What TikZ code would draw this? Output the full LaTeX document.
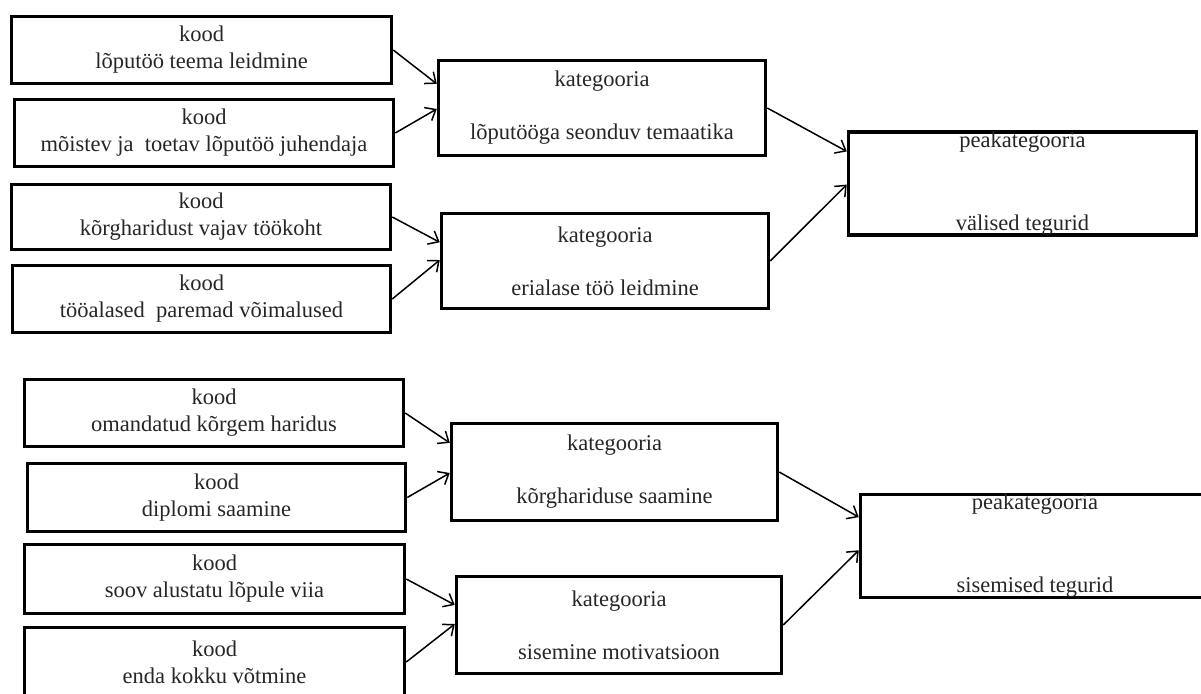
\documentclass[tikz,border=0pt]{standalone}
\usepackage{fontspec}
\setmainfont{Liberation Serif}
\usetikzlibrary{arrows.meta,calc}
\tikzset{
  box/.style={draw=black, line width=3.5pt, rectangle, inner sep=0pt, align=center,
    font=\fontsize{22.5}{27}\selectfont, text=black!85},
  peak/.style={box, text depth=8pt},
  conn/.style={draw=black, line width=1.5pt, -{Straight Barb[length=9pt,width=15pt,line width=1.5pt]}},
}
\begin{document}
\begin{tikzpicture}[x=1pt,y=-1pt]
\useasboundingbox (0,0) rectangle (1201,693);
% code boxes, top group
\node[box, minimum width=380, minimum height=67] (k1) at (201.5,50) {kood\\lõputöö teema leidmine};
\node[box, minimum width=379, minimum height=67] (k2) at (204,133) {kood\\mõistev ja~ toetav lõputöö juhendaja};
\node[box, minimum width=379, minimum height=65] (k3) at (201,217) {kood\\kõrgharidust vajav töökoht};
\node[box, minimum width=378, minimum height=67] (k4) at (201.5,299) {kood\\tööalased~ paremad võimalused};
% code boxes, bottom group
\node[box, minimum width=379, minimum height=67] (k5) at (214,413) {kood\\omandatud kõrgem haridus};
\node[box, minimum width=378, minimum height=68] (k6) at (216.5,497.5) {kood\\diplomi saamine};
\node[box, minimum width=380, minimum height=69] (k7) at (214.5,579) {kood\\soov alustatu lõpule viia};
\node[box, minimum width=380, minimum height=69] (k8) at (214.5,662) {kood\\enda kokku võtmine};
% category boxes
\node[box, minimum width=327, minimum height=95] (c1) at (602,108) {kategooria\\[26pt]lõputööga seonduv temaatika};
\node[box, minimum width=327, minimum height=95] (c2) at (605,261) {kategooria\\[26pt]erialase töö leidmine};
\node[box, minimum width=326, minimum height=97] (c3) at (614.5,472) {kategooria\\[26pt]kõrghariduse saamine};
\node[box, minimum width=325, minimum height=97] (c4) at (619,625) {kategooria\\[26pt]sisemine motivatsioon};
% main category boxes
\node[box, minimum width=348, minimum height=102] (p1) at (1022.5,183.5) {\raisebox{-3pt}{peakategooria}\\[56pt]\raisebox{-3pt}{välised tegurid}};
\node[box, minimum width=349, minimum height=103] (p2) at (1035,546) {\raisebox{-3pt}{peakategooria}\\[56pt]\raisebox{-3pt}{sisemised tegurid}};
% connectors
\draw[conn] (k1.east) -- ($(c1.north west)!0.255!(c1.south west)$);
\draw[conn] (k2.east) -- ($(c1.north west)!0.51!(c1.south west)$);
\draw[conn] (k3.east) -- ($(c2.north west)!0.31!(c2.south west)$);
\draw[conn] (k4.east) -- ($(c2.north west)!0.49!(c2.south west)$);
\draw[conn] (k5.east) -- ($(c3.north west)!0.21!(c3.south west)$);
\draw[conn] (k6.east) -- ($(c3.north west)!0.51!(c3.south west)$);
\draw[conn] (k7.east) -- ($(c4.north west)!0.30!(c4.south west)$);
\draw[conn] (k8.east) -- ($(c4.north west)!0.49!(c4.south west)$);
\draw[conn] (c1.east) -- ($(p1.north west)!0.20!(p1.south west)$);
\draw[conn] (c2.east) -- ($(p1.north west)!0.51!(p1.south west)$);
\draw[conn] (c3.east) -- ($(p2.north west)!0.23!(p2.south west)$);
\draw[conn] (c4.east) -- ($(p2.north west)!0.54!(p2.south west)$);
\end{tikzpicture}
\end{document}
